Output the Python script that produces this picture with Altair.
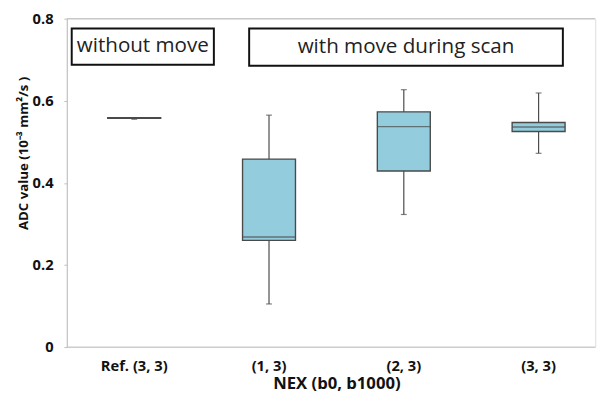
import altair as alt
import pandas as pd

# ---- data ----
categories = ["Ref. (3, 3)", "(1, 3)", "(2, 3)", "(3, 3)"]
lower_whisker = [0.555, 0.105, 0.323, 0.472]
q1_values = [0.557, 0.260, 0.429, 0.525]
median_values = [0.558, 0.268, 0.537, 0.536]
q3_values = [0.559, 0.458, 0.573, 0.547]
upper_whisker = [0.559, 0.565, 0.627, 0.619]
group_labels = ["without move", "with move during scan"]
y_ticks = [0, 0.2, 0.4, 0.6, 0.8]

df = pd.DataFrame({
    "cat": categories,
    "lo": lower_whisker,
    "q1": q1_values,
    "med": median_values,
    "q3": q3_values,
    "hi": upper_whisker,
})

W, H = 539, 335
FONT = "Open Sans"
BOX_FILL = "#93CDDD"
EDGE = "#4a4a4a"

x_enc = alt.X(
    "cat:N", sort=categories,
    scale=alt.Scale(range=[0, 550], paddingInner=0, paddingOuter=0),
    axis=alt.Axis(
        title="NEX (b0, b1000)", labelAngle=0, domain=False, ticks=False,
        tickSize=0, labelPadding=12, labelFont=FONT, labelFontSize=15,
        labelFontWeight="bold", labelColor="#111", titleFont=FONT,
        titleFontSize=17, titleFontWeight="bold", titleColor="#111",
        titlePadding=2,
    ),
)
y_scale = alt.Scale(domain=[0, 0.8], nice=False, zero=True)
y_axis = alt.Axis(
    title="ADC value (10⁻³ mm²/s )", values=y_ticks, grid=False,
    labelExpr="datum.value == 0 ? '0' : format(datum.value, '.1f')",
    domainColor="#c0c0c0", tickColor="#c0c0c0", tickSize=3,
    labelPadding=11, labelFont=FONT, labelFontSize=15, labelFontWeight="bold",
    labelColor="#111", titleFont=FONT, titleFontSize=13.5, titleFontWeight="bold",
    titleColor="#111", titleX=-44, titleY=137, titleAngle=-90,
    titleBaseline="middle", titleAlign="center",
)

base = alt.Chart(df)

whisker = base.mark_rule(color=EDGE, strokeWidth=1.2).encode(
    x=x_enc, y=alt.Y("lo:Q", scale=y_scale, axis=y_axis), y2="hi:Q"
)
caps_lo = base.mark_tick(color=EDGE, size=6, thickness=1.2).encode(x=x_enc, y="lo:Q")
caps_hi = base.mark_tick(color=EDGE, size=6, thickness=1.2).encode(x=x_enc, y="hi:Q")
box = base.mark_bar(size=54, fill=BOX_FILL, stroke=EDGE, strokeWidth=1.4).encode(
    x=x_enc, y="q1:Q", y2="q3:Q"
)
median = base.mark_tick(color=EDGE, size=54, thickness=1.5).encode(x=x_enc, y="med:Q")

frame_top = alt.Chart(alt.Data(values=[{"v": 0.8}])).mark_rule(
    color="#c0c0c0", strokeWidth=1
).encode(y=alt.Y("v:Q"), x=alt.value(0), x2=alt.value(W))
frame_bottom = alt.Chart(alt.Data(values=[{"v": 0}])).mark_rule(
    color="#c0c0c0", strokeWidth=1
).encode(y=alt.Y("v:Q"), x=alt.value(0), x2=alt.value(W))

def label_box(text, x0, x1, y0, y1):
    d = alt.Data(values=[{"t": text}])
    r = alt.Chart(d).mark_rect(fill="white", stroke="#111", strokeWidth=2).encode(
        x=alt.value(x0), x2=alt.value(x1), y=alt.value(y0), y2=alt.value(y1)
    )
    t = alt.Chart(d).mark_text(
        font=FONT, fontSize=21, color="#222", align="center", baseline="middle"
    ).encode(text="t:N", x=alt.value((x0 + x1) / 2), y=alt.value((y0 + y1) / 2))
    return r + t

ann1 = label_box(group_labels[0], 5, 150, 10, 47)
ann2 = label_box(group_labels[1], 186, 506, 10, 48)

chart = alt.layer(
    frame_top, frame_bottom, whisker, caps_lo, caps_hi, box, median, ann1, ann2
).properties(
    width=W, height=H, padding={"left": 9, "top": 0, "right": 0, "bottom": 0}
).configure_view(stroke=None).configure(background="white")

chart.save("out.html", embed_options={"renderer": "svg", "actions": False})
